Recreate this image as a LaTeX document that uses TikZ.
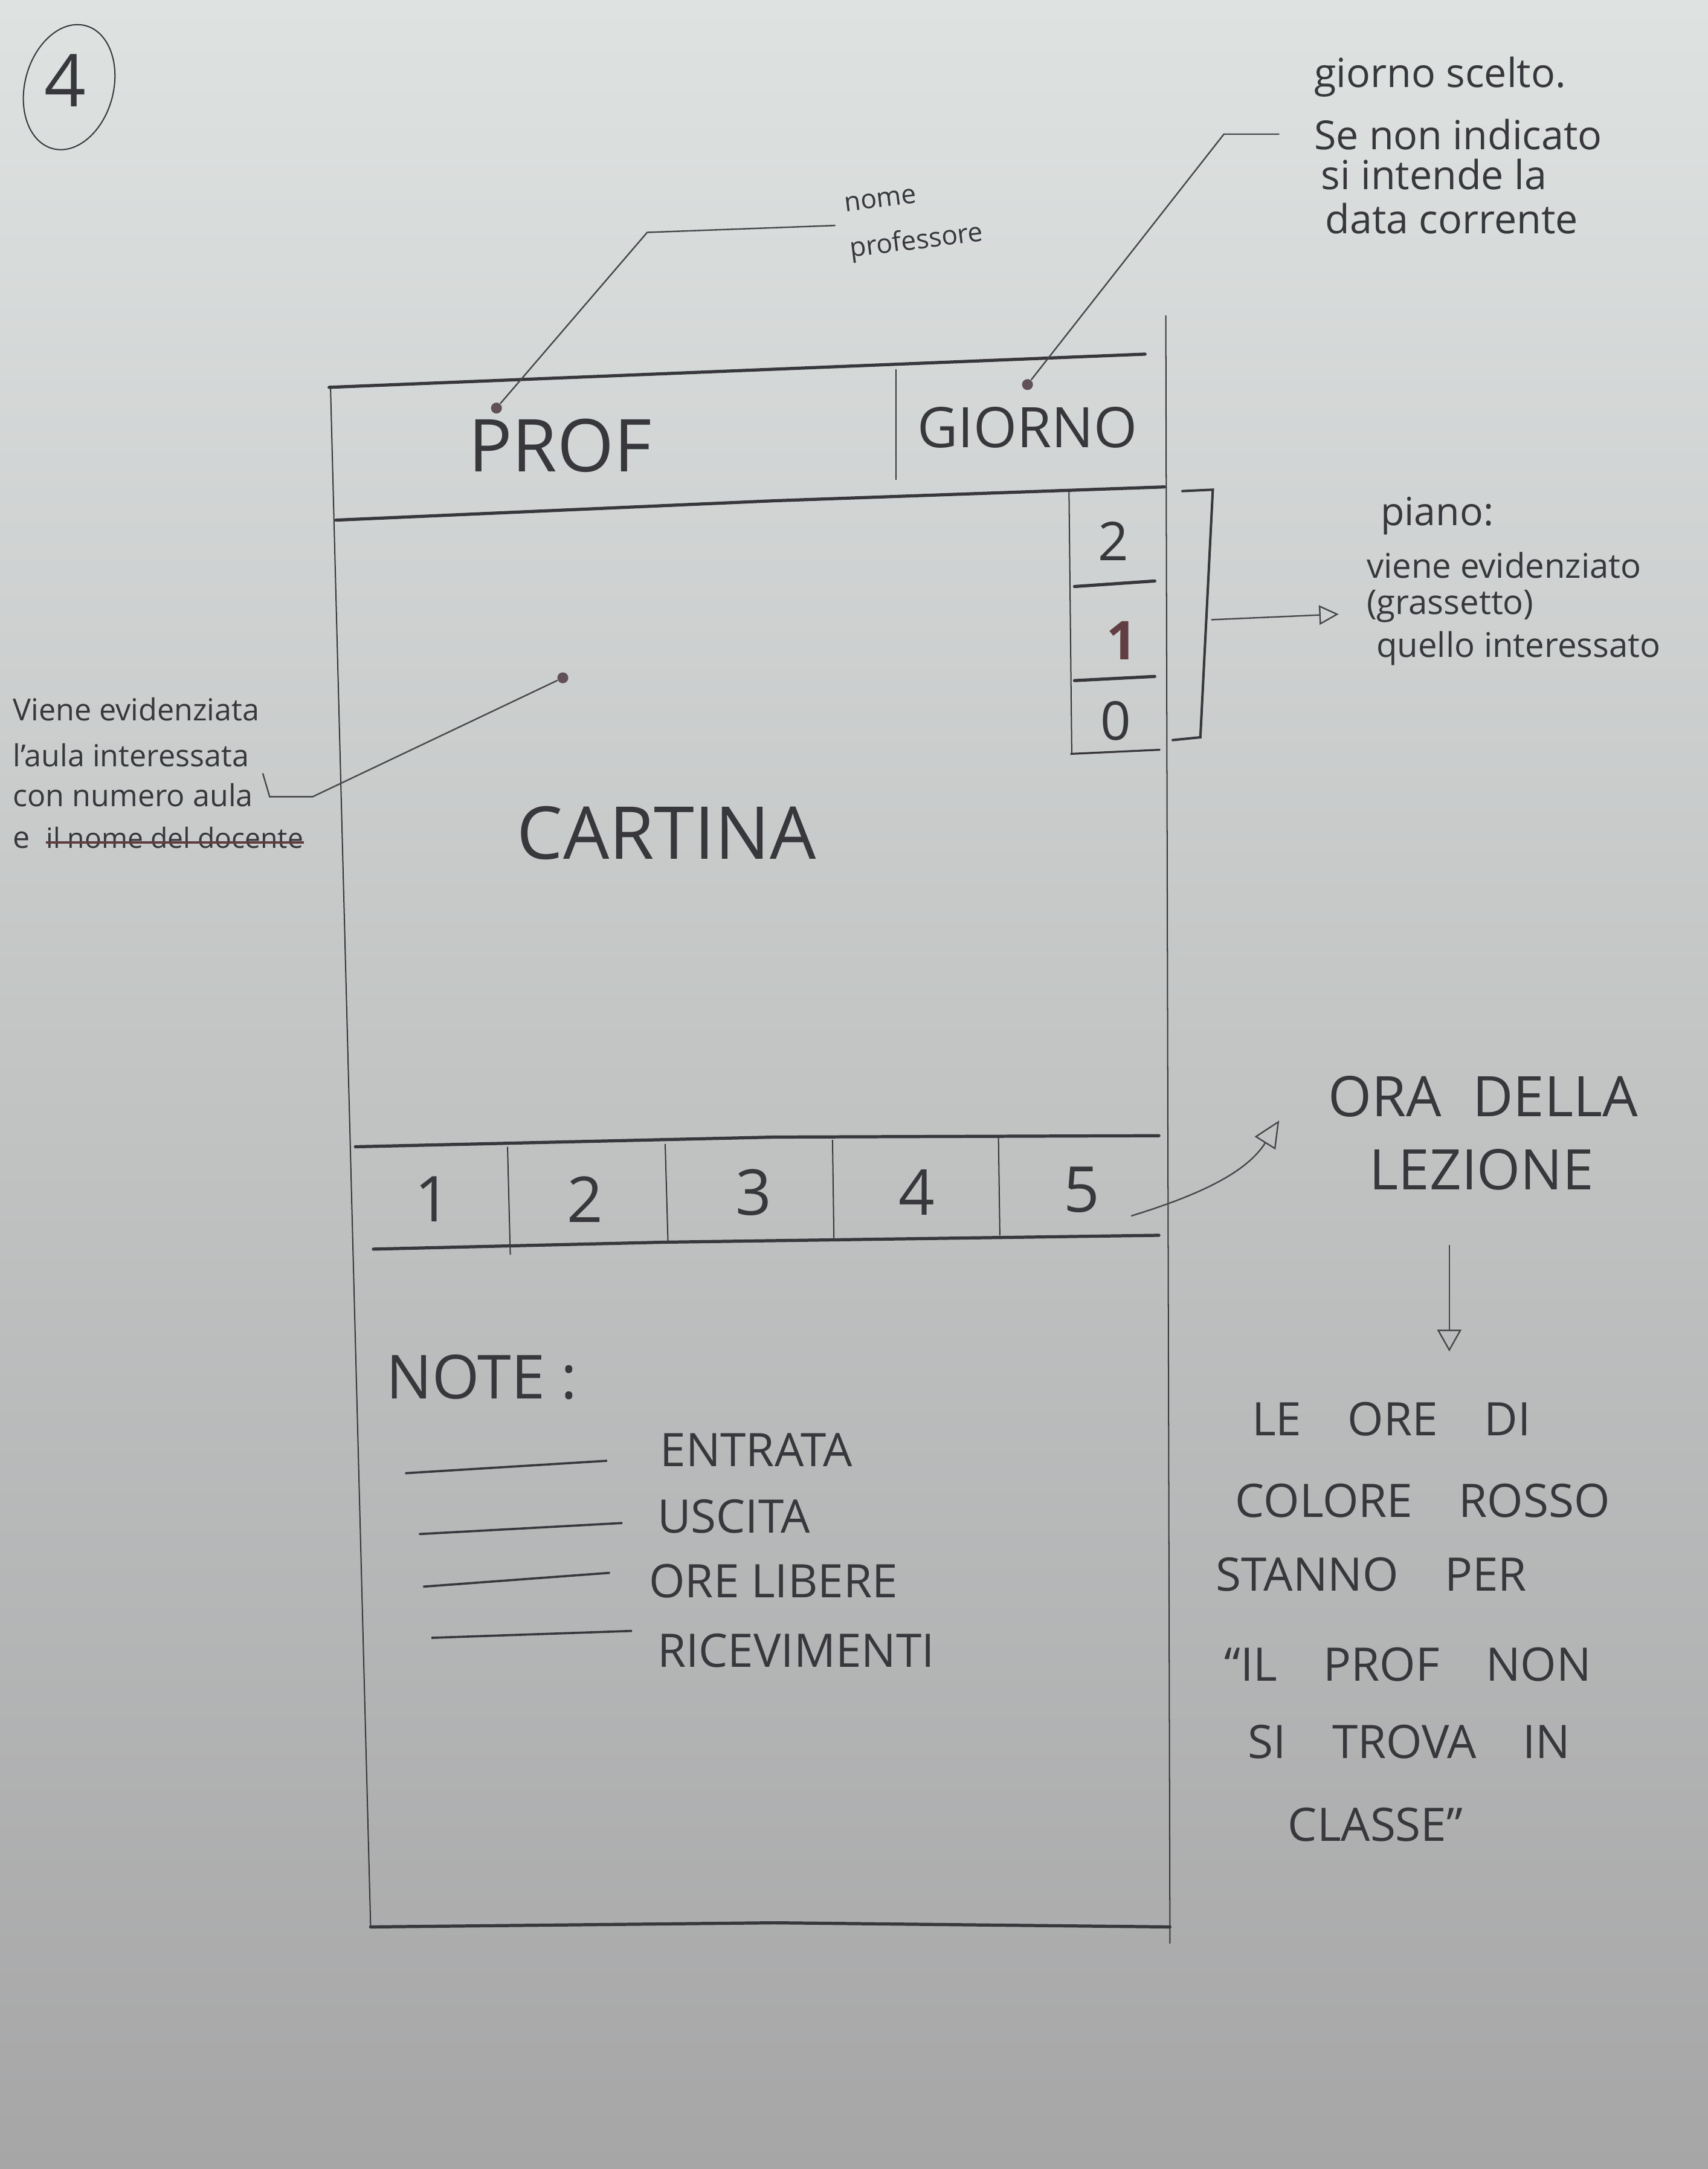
\documentclass[tikz,border=0pt]{standalone}
\usepackage{fontspec}
\setmainfont{Open Sans}
\usetikzlibrary{arrows.meta,calc}
\definecolor{pencil}{RGB}{55,55,60}
\definecolor{graphite}{RGB}{72,72,76}
\definecolor{dotc}{RGB}{98,80,88}
\definecolor{rossoc}{RGB}{96,62,66}
\definecolor{papertop}{RGB}{222,226,225}
\definecolor{papermid}{RGB}{210,213,212}
\definecolor{paperbot}{RGB}{166,166,167}
\newcommand{\fsz}[1]{\fontsize{#1}{#1}\selectfont}
\tikzset{>={Triangle[open,length=8pt,width=8pt]},pen/.style={draw=pencil,line width=.5pt},heavy/.style={draw=pencil,line width=1.3pt,line cap=round},hand/.style={text=pencil,inner sep=0pt,anchor=base west},dot/.style={circle,fill=dotc,inner sep=0pt,minimum size=4.5pt},lead/.style={draw=graphite,line width=.6pt}}

\begin{document}
\begin{tikzpicture}[x=.02cm,y=-.02cm]
\shade[top color=papertop,middle color=papermid,bottom color=paperbot] (0,0) rectangle (1235,1568);
\useasboundingbox (0,0) rectangle (1235,1568);
% numero del foglio
\node[text=pencil,font=\fsz{30}] (num) at (47,58) {4};
\draw[pen,rotate around={-15:(50,63)}] (50,63) ellipse[x radius=32,y radius=46];
% cornice dello schermo
\draw[pen] (239,280) -- (268,1393);\draw[pen] (843,228) -- (846,1405);
\draw[heavy] (238,280) -- (828,256);
\draw[heavy] (243,376) -- (560,362) -- (842,352);
\draw[pen] (648,267) -- (648,347);
\node[text=pencil,font=\fsz{30}] (prof) at (405,322) {PROF};
\node[text=pencil,font=\fsz{23}] (giorno) at (743,309) {GIORNO};
\node[text=pencil,font=\fsz{30}] (cartina) at (482,602) {CARTINA};
% piani
\draw[pen] (773,355) -- (775,545);
\draw[heavy] (777,424) -- (835,420);\draw[heavy] (777,492) -- (835,489);
\draw[pen,line width=.8pt] (774,545) -- (839,542);
\node[text=pencil,font=\fsz{22}] (p2) at (805,391) {2};
\node[text=rossoc,font=\fsz{22}\bfseries] (p1) at (811,463) {1};
\node[text=pencil,font=\fsz{22}] (p0) at (807,521) {0};
\draw[heavy,line width=1pt] (855,355) -- (877,354) -- (868,533) -- (848,535);
% ore
\draw[heavy] (257,829) -- (560,822) -- (838,821);
\draw[heavy] (270,903) -- (480,898) -- (838,893);
\draw[pen] (367,829) -- (369,907);\draw[pen] (481,827) -- (483,897);
\draw[pen] (602,824) -- (603,895);\draw[pen] (722,822) -- (723,893);
\node[text=pencil,font=\fsz{26}] (h1) at (313,867) {1};
\node[text=pencil,font=\fsz{26}] (h2) at (423,867) {2};
\node[text=pencil,font=\fsz{26}] (h3) at (545,862) {3};
\node[text=pencil,font=\fsz{26}] (h4) at (663,862) {4};
\node[text=pencil,font=\fsz{26}] (h5) at (782,860) {5};
% note
\node[hand,font=\fsz{25}] (note) at (279,1011) {NOTE :};
\draw[pen,line width=.9pt] (293,1065) -- (439,1056);\node[hand,font=\fsz{19}] (n1) at (477,1060) {ENTRATA};
\draw[pen,line width=.9pt] (303,1109) -- (450,1101);\node[hand,font=\fsz{19}] (n2) at (475,1108) {USCITA};
\draw[pen,line width=.9pt] (306,1147) -- (441,1137);\node[hand,font=\fsz{19}] (n3) at (469,1155) {ORE LIBERE};
\draw[pen,line width=.9pt] (312,1184) -- (457,1179);\node[hand,font=\fsz{19}] (n4) at (475,1205) {RICEVIMENTI};
\draw[heavy] (268,1393) -- (560,1390) -- (846,1393);
% richiami
\node[dot] (dprof) at (359,295) {};\node[dot] (dgio) at (743,278) {};\node[dot] (dcart) at (407,490) {};
\node[hand,rotate=7,font=\fsz{11}] (nome) at (611,153) {nome};
\node[hand,rotate=7,font=\fsz{11}] (profe) at (615,186) {professore};
\coordinate (kp) at (468,168);\coordinate (ep) at (604,163);
\draw[lead] (dprof) -- (kp) -- (ep);
\node[hand,font=\fsz{16.5}] (g1) at (950,63) {giorno scelto.};
\node[hand,font=\fsz{16.5}] (g2) at (950,108) {Se non indicato};
\node[hand,font=\fsz{16.5}] (g3) at (955,137) {si intende la};
\node[hand,font=\fsz{16.5}] (g4) at (958,169) {data corrente};
\coordinate (kg) at (885,97);\coordinate (eg) at (925,97);
\draw[lead] (dgio) -- (kg) -- (eg);
\node[hand,font=\fsz{12.5}] (v1) at (9,521) {Viene evidenziata};
\node[hand,font=\fsz{12.5}] (v2) at (9,554) {l'aula interessata};
\node[hand,font=\fsz{12.5}] (v3) at (9,583) {con numero aula};
\node[hand,font=\fsz{12.5}] (v4) at (9,613) {e};
\node[hand,font=\fsz{11.5}] (v4s) at (33,613) {il nome del docente};
\draw[draw=rossoc,line width=1.2pt] ($(v4s.base west)+(0,-4)$) -- ($(v4s.base east)+(0,-4)$);
\coordinate (kc1) at (226,576);\coordinate (kc2) at (195,576);\coordinate (kc3) at (190,559);
\draw[lead] (dcart) -- (kc1) -- (kc2) -- (kc3);
\node[hand,font=\fsz{16}] (pi1) at (998,380) {piano:};
\node[hand,font=\fsz{14}] (pi2) at (988,418) {viene evidenziato};
\node[hand,font=\fsz{14}] (pi3) at (988,444) {(grassetto)};
\node[hand,font=\fsz{14}] (pi4) at (995,475) {quello interessato};
\coordinate (bk) at (876,448);\coordinate (pt) at (968,444);
\draw[lead,->] (bk) -- (pt);
\node[hand,font=\fsz{23}] (ora) at (960,807) {ORA\hspace{.45cm}DELLA};
\node[hand,font=\fsz{23}] (lez) at (990,860) {LEZIONE};
\coordinate (a5) at (818,879);\coordinate (ta) at (925,810);
\draw[lead,-{Triangle[open,length=11pt,width=10pt]}] (a5) .. controls (860,866) and (900,850) .. (ta);
\coordinate (d1) at (1048,900);\coordinate (d2) at (1048,977);
\draw[lead,-{Triangle[open,length=9pt,width=10pt]}] (d1) -- (d2);
\node[hand,font=\fsz{19}] (r1) at (905,1038) {LE\quad ORE\quad DI};
\node[hand,font=\fsz{19}] (r2) at (893,1097) {COLORE\quad ROSSO};
\node[hand,font=\fsz{19}] (r3) at (879,1150) {STANNO\quad PER};
\node[hand,font=\fsz{19}] (r4) at (885,1215) {``IL\quad PROF\quad NON};
\node[hand,font=\fsz{19}] (r5) at (902,1271) {SI\quad TROVA\quad IN};
\node[hand,font=\fsz{19}] (r6) at (931,1331) {CLASSE''};
\end{tikzpicture}
\end{document}
